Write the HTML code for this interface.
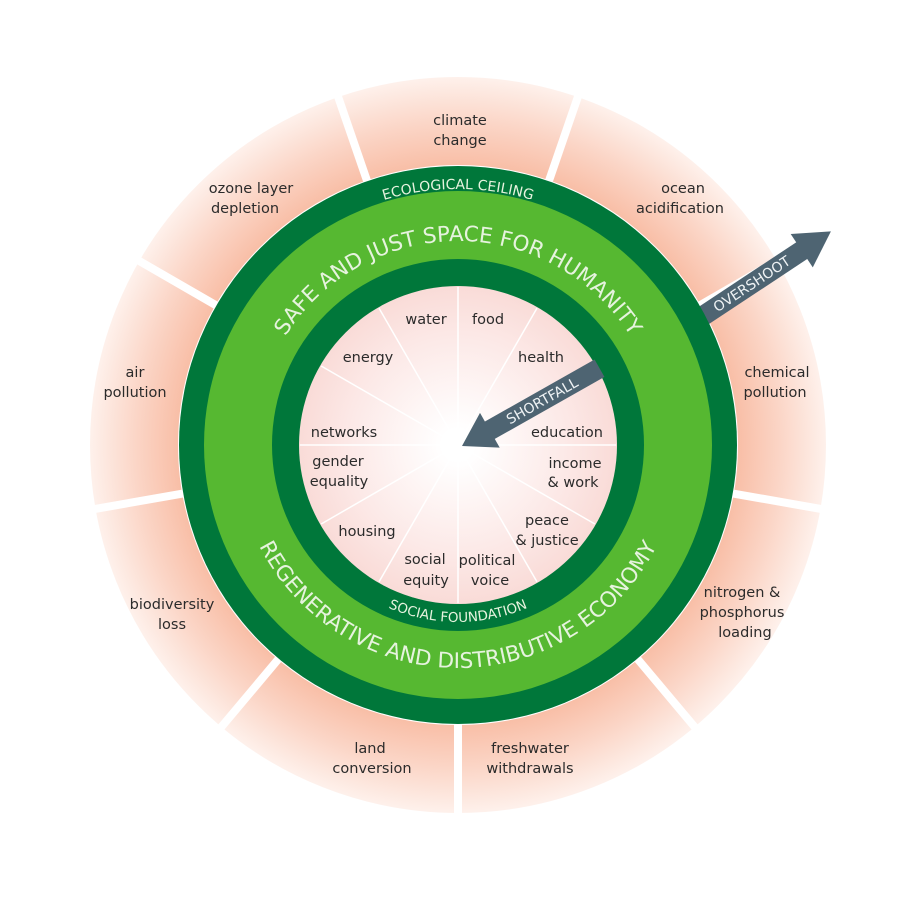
<!DOCTYPE html>
<html><head><meta charset="utf-8"><style>
html,body{margin:0;padding:0;background:#fff;width:900px;height:900px;overflow:hidden}
svg{display:block}
.l{font-family:"DejaVu Sans","Liberation Sans",sans-serif;font-size:14.5px;fill:#2b2b2b;text-anchor:middle}
.w{font-family:"DejaVu Sans","Liberation Sans",sans-serif;fill:#e6f3de}
</style></head><body>
<svg width="900" height="900" viewBox="0 0 900 900" xmlns="http://www.w3.org/2000/svg">
<defs>
<radialGradient id="sal" gradientUnits="userSpaceOnUse" cx="458" cy="445" r="370">
<stop offset="0.74" stop-color="#f8bba2"/>
<stop offset="0.87" stop-color="#fbd5c6"/>
<stop offset="1" stop-color="#fef2ed"/>
</radialGradient>
<radialGradient id="inn" gradientUnits="userSpaceOnUse" cx="458" cy="445" r="160">
<stop offset="0.1" stop-color="#ffffff"/>
<stop offset="0.7" stop-color="#fce8e6"/>
<stop offset="1" stop-color="#f9dbd7"/>
</radialGradient>
<path id="top1" d="M 254 445 A 204 204 0 0 1 662 445"/>
<path id="top2" d="M 202 445 A 256 256 0 0 1 714 445"/>
<path id="bot1" d="M 235 445 A 223 223 0 0 0 681 445"/>
<path id="bot2" d="M 281 445 A 177 177 0 0 0 635 445"/>
</defs>
<circle cx="458" cy="445" r="324" fill="none" stroke="url(#sal)" stroke-width="88"/>
<g stroke="#fff" stroke-width="8" transform="translate(458 445)">
<line x1="0" y1="-270" x2="0" y2="-380" transform="rotate(19)"/>
<line x1="0" y1="-270" x2="0" y2="-380" transform="rotate(60)"/>
<line x1="0" y1="-270" x2="0" y2="-380" transform="rotate(100)"/>
<line x1="0" y1="-270" x2="0" y2="-380" transform="rotate(140)"/>
<line x1="0" y1="-270" x2="0" y2="-380" transform="rotate(180)"/>
<line x1="0" y1="-270" x2="0" y2="-380" transform="rotate(220)"/>
<line x1="0" y1="-270" x2="0" y2="-380" transform="rotate(260)"/>
<line x1="0" y1="-270" x2="0" y2="-380" transform="rotate(300)"/>
<line x1="0" y1="-270" x2="0" y2="-380" transform="rotate(341)"/>
</g>
<g transform="translate(700 318) rotate(-33.5)" fill="#4e6472">
<rect x="-40" y="-10" width="166" height="20"/>
<polygon points="122,-20 157,0 122,20"/>
<text x="62" y="5" class="w" font-size="14" text-anchor="middle" style="fill:#eef2f4">OVERSHOOT</text>
</g>
<circle cx="458" cy="445" r="279" fill="#00773a"/>
<circle cx="458" cy="445" r="254" fill="#56b831"/>
<circle cx="458" cy="445" r="186" fill="#00773a"/>
<circle cx="458" cy="445" r="159" fill="url(#inn)"/>
<g stroke="#fff" stroke-width="1.5" transform="translate(458 445)">
<line x1="0" y1="0" x2="0" y2="-158"/>
<line x1="0" y1="0" x2="0" y2="-158" transform="rotate(30)"/>
<line x1="0" y1="0" x2="0" y2="-158" transform="rotate(60)"/>
<line x1="0" y1="0" x2="0" y2="-158" transform="rotate(90)"/>
<line x1="0" y1="0" x2="0" y2="-158" transform="rotate(120)"/>
<line x1="0" y1="0" x2="0" y2="-158" transform="rotate(150)"/>
<line x1="0" y1="0" x2="0" y2="-158" transform="rotate(180)"/>
<line x1="0" y1="0" x2="0" y2="-158" transform="rotate(210)"/>
<line x1="0" y1="0" x2="0" y2="-158" transform="rotate(240)"/>
<line x1="0" y1="0" x2="0" y2="-158" transform="rotate(270)"/>
<line x1="0" y1="0" x2="0" y2="-158" transform="rotate(300)"/>
<line x1="0" y1="0" x2="0" y2="-158" transform="rotate(330)"/>
</g>
<g transform="translate(462 446) rotate(-29.5)" fill="#4e6472">
<polygon points="0,0 32,-20 32,20"/>
<rect x="30" y="-10" width="128" height="20"/>
<text x="92" y="5" class="w" font-size="14" text-anchor="middle" style="fill:#eef2f4">SHORTFALL</text>
</g>
<text class="w" font-size="14"><textPath href="#top2" startOffset="50%" text-anchor="middle">ECOLOGICAL CEILING</textPath></text>
<text class="w" font-size="21.5"><textPath href="#top1" startOffset="50%" text-anchor="middle">SAFE AND JUST SPACE FOR HUMANITY</textPath></text>
<text class="w" font-size="21.5"><textPath href="#bot1" startOffset="50%" text-anchor="middle">REGENERATIVE AND DISTRIBUTIVE ECONOMY</textPath></text>
<text class="w" font-size="13.5"><textPath href="#bot2" startOffset="50%" text-anchor="middle">SOCIAL FOUNDATION</textPath></text>
<g class="l">
<text x="460" y="125">climate</text><text x="460" y="145">change</text>
<text x="251" y="193">ozone layer</text><text x="245" y="213">depletion</text>
<text x="683" y="193">ocean</text><text x="680" y="213">acidification</text>
<text x="135" y="377">air</text><text x="135" y="397">pollution</text>
<text x="777" y="377">chemical</text><text x="775" y="397">pollution</text>
<text x="172" y="609">biodiversity</text><text x="172" y="629">loss</text>
<text x="742" y="597">nitrogen &amp;</text><text x="742" y="617">phosphorus</text><text x="745" y="637">loading</text>
<text x="370" y="753">land</text><text x="372" y="773">conversion</text>
<text x="530" y="753">freshwater</text><text x="530" y="773">withdrawals</text>
<text x="426" y="324">water</text>
<text x="488" y="324">food</text>
<text x="368" y="362">energy</text>
<text x="541" y="362">health</text>
<text x="344" y="437">networks</text>
<text x="567" y="437">education</text>
<text x="338" y="466">gender</text><text x="339" y="486">equality</text>
<text x="575" y="468">income</text><text x="573" y="487">&amp; work</text>
<text x="367" y="536">housing</text>
<text x="547" y="525">peace</text><text x="547" y="545">&amp; justice</text>
<text x="425" y="564">social</text><text x="426" y="585">equity</text>
<text x="487" y="565">political</text><text x="490" y="585">voice</text>
</g>
</svg>
</body></html>
